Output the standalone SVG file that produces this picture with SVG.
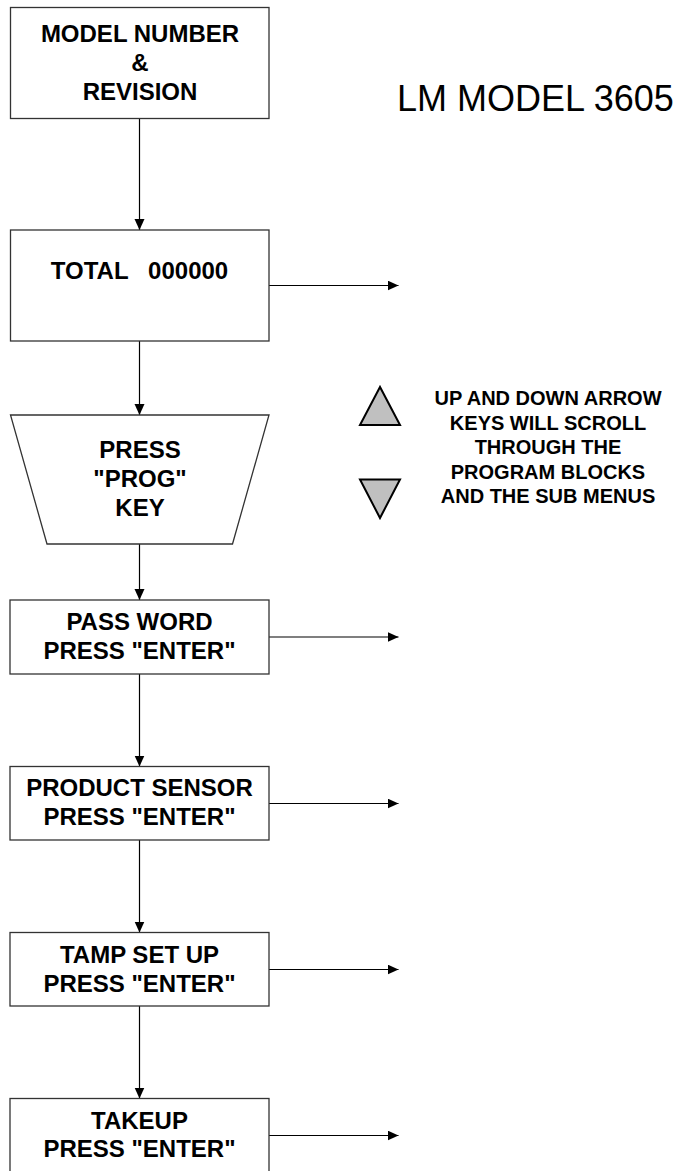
<svg xmlns="http://www.w3.org/2000/svg" width="683" height="1171" viewBox="0 0 683 1171">
<style>
.box{fill:#fff;stroke:#333;stroke-width:1.3}
.t{font-family:"Liberation Sans",Arial,sans-serif;font-weight:bold;font-size:24px;text-anchor:middle;fill:#000;white-space:pre}
.note{font-family:"Liberation Sans",Arial,sans-serif;font-weight:bold;font-size:20px;text-anchor:middle;fill:#000}
.title{font-family:"Liberation Sans",Arial,sans-serif;font-size:36px;fill:#000}
.c{fill:none;stroke:#000;stroke-width:1.2}
.tri{fill:#c0c0c0;stroke:#000;stroke-width:2;stroke-linejoin:miter}
</style>
<defs>
<marker id="ah" markerUnits="userSpaceOnUse" markerWidth="12" markerHeight="11" refX="11" refY="5" orient="auto">
<path d="M0,0 L11,5 L0,10 z" fill="#000"/>
</marker>
</defs>
<rect width="683" height="1171" fill="#fff"/>
<g id="connectors">
<line class="c" x1="139.5" y1="118.5" x2="139.5" y2="230" marker-end="url(#ah)"/>
<line class="c" x1="139.5" y1="341" x2="139.5" y2="415" marker-end="url(#ah)"/>
<line class="c" x1="139.5" y1="544" x2="139.5" y2="600" marker-end="url(#ah)"/>
<line class="c" x1="139.5" y1="674" x2="139.5" y2="766.5" marker-end="url(#ah)"/>
<line class="c" x1="139.5" y1="840" x2="139.5" y2="932.5" marker-end="url(#ah)"/>
<line class="c" x1="139.5" y1="1006" x2="139.5" y2="1098.5" marker-end="url(#ah)"/>
<line class="c" x1="269" y1="285.5" x2="398.5" y2="285.5" marker-end="url(#ah)"/>
<line class="c" x1="269" y1="637" x2="398.5" y2="637" marker-end="url(#ah)"/>
<line class="c" x1="269" y1="803.5" x2="398.5" y2="803.5" marker-end="url(#ah)"/>
<line class="c" x1="269" y1="969.5" x2="398.5" y2="969.5" marker-end="url(#ah)"/>
<line class="c" x1="269" y1="1135.5" x2="398.5" y2="1135.5" marker-end="url(#ah)"/>
</g>
<g id="model">
<rect class="box" x="10.5" y="7.5" width="258.5" height="111"/>
<text class="t" x="140" y="42">MODEL NUMBER</text>
<text class="t" x="140" y="71">&amp;</text>
<text class="t" x="140" y="100">REVISION</text>
</g>
<g id="title">
<text class="title" x="397" y="111">LM MODEL 3605</text>
</g>
<g id="total">
<rect class="box" x="10.5" y="230" width="258.5" height="111"/>
<text class="t" x="139.5" y="278.5">TOTAL   000000</text>
</g>
<g id="prog">
<polygon class="box" points="10.5,415 269,415 232.5,544 47,544"/>
<text class="t" x="140" y="458">PRESS</text>
<text class="t" x="140" y="487">"PROG"</text>
<text class="t" x="140" y="516">KEY</text>
</g>
<g id="legend">
<polygon class="tri" points="380,387 360,425 400,425"/>
<polygon class="tri" points="360,479.5 400,479.5 380,518"/>
<text class="note" x="548" y="405">UP AND DOWN ARROW</text>
<text class="note" x="548" y="429.5">KEYS WILL SCROLL</text>
<text class="note" x="548" y="454">THROUGH THE</text>
<text class="note" x="548" y="478.5">PROGRAM BLOCKS</text>
<text class="note" x="548" y="503">AND THE SUB MENUS</text>
</g>
<g id="password">
<rect class="box" x="10" y="600" width="259" height="74"/>
<text class="t" x="139.5" y="630">PASS WORD</text>
<text class="t" x="139.5" y="658.5">PRESS "ENTER"</text>
</g>
<g id="sensor">
<rect class="box" x="10" y="766.5" width="259" height="73.5"/>
<text class="t" x="139.5" y="796">PRODUCT SENSOR</text>
<text class="t" x="139.5" y="824.5">PRESS "ENTER"</text>
</g>
<g id="tamp">
<rect class="box" x="10" y="932.5" width="259" height="73.5"/>
<text class="t" x="139.5" y="962.5">TAMP SET UP</text>
<text class="t" x="139.5" y="991.5">PRESS "ENTER"</text>
</g>
<g id="takeup">
<rect class="box" x="10" y="1098.5" width="259" height="73.5"/>
<text class="t" x="139.5" y="1128.5">TAKEUP</text>
<text class="t" x="139.5" y="1157">PRESS "ENTER"</text>
</g>
</svg>
